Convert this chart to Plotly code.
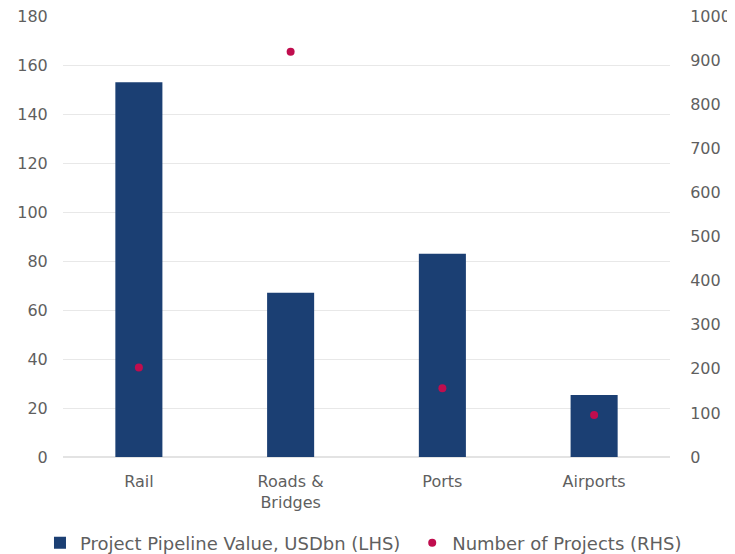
import plotly.graph_objects as go

categories = ["Rail", "Roads &<br>Bridges", "Ports", "Airports"]
pipeline_value = [153, 67, 83, 25.3]
num_projects = [203, 919, 156, 95]

left_ticks = list(range(0, 181, 20))
right_ticks = list(range(0, 1001, 100))

fig = go.Figure()
fig.add_trace(go.Bar(
    x=categories, y=pipeline_value, name="Project Pipeline Value, USDbn (LHS)",
    marker=dict(color="#1b3f73", line=dict(width=0)), width=0.31, yaxis="y",
    legend="legend",
))
fig.add_trace(go.Scatter(
    x=categories, y=num_projects, name="Number of Projects (RHS)", mode="markers",
    marker=dict(color="#c00d4e", size=8), yaxis="y2", legend="legend2",
))

grey = "#5f5f5f"
tick_font = dict(family="DejaVu Sans, sans-serif", size=16, color=grey)
legend_font = dict(family="DejaVu Sans, sans-serif", size=18, color=grey)
legend_common = dict(orientation="h", xref="container", yref="container",
                     xanchor="left", y=0.034, yanchor="middle",
                     font=legend_font, itemwidth=30, tracegroupgap=0,
                     bgcolor="rgba(0,0,0,0)")
fig.update_layout(
    width=727, height=554,
    margin=dict(l=55, r=65, t=8, b=105),
    plot_bgcolor="white", paper_bgcolor="white",
    font=tick_font,
    showlegend=True,
    legend=dict(x=0.044, **legend_common),
    legend2=dict(x=0.556, **legend_common),
    xaxis=dict(showgrid=False, showline=False, ticks="outside", ticklen=10,
               tickcolor="white", tickfont=tick_font, automargin=False),
    yaxis=dict(range=[0, 180], tickvals=left_ticks, showgrid=True, gridcolor="#e8e8e8",
               zeroline=True, zerolinecolor="#e3e3e3", showline=False, ticks="outside",
               ticklen=11, tickcolor="white", tickfont=tick_font, automargin=False,
               ticklabeloverflow="allow"),
    yaxis2=dict(range=[0, 1000], tickvals=right_ticks, overlaying="y", side="right",
                showgrid=False, zeroline=False, showline=False, ticks="outside",
                ticklen=16, tickcolor="white", tickfont=tick_font, automargin=False,
                ticklabeloverflow="allow"),
)

fig.write_html("out.html")
